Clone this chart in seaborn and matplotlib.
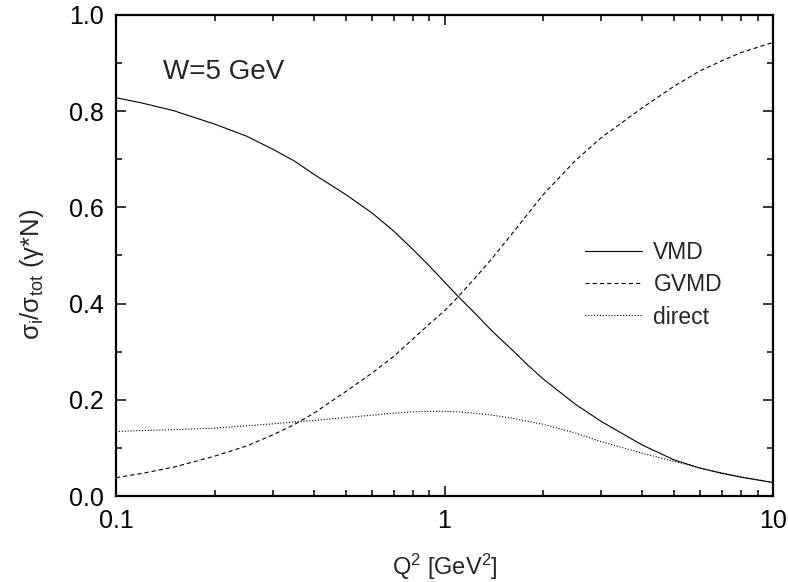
import matplotlib
matplotlib.use("Agg")
import matplotlib.pyplot as plt
from matplotlib.ticker import FixedLocator, FixedFormatter, MultipleLocator, NullFormatter
import seaborn as sns

# values
q2 = [0.1, 0.12, 0.15, 0.2, 0.25, 0.3, 0.35, 0.4, 0.5, 0.6, 0.7, 0.8, 0.9,
      1.0, 1.1, 1.25, 1.4, 1.6, 1.8, 2.0, 2.5, 3.0, 4.0, 5.0, 6.0, 7.0, 8.0, 10.0]
vmd = [0.828, 0.817, 0.801, 0.773, 0.748, 0.721, 0.696, 0.669, 0.627, 0.589,
       0.551, 0.513, 0.478, 0.445, 0.415, 0.377, 0.342, 0.305, 0.271, 0.243,
       0.191, 0.155, 0.106, 0.075, 0.058, 0.047, 0.039, 0.028]
gvmd = [0.038, 0.047, 0.060, 0.083, 0.104, 0.127, 0.149, 0.172, 0.217, 0.255,
        0.290, 0.326, 0.358, 0.385, 0.414, 0.456, 0.495, 0.544, 0.588, 0.627,
        0.697, 0.745, 0.807, 0.852, 0.884, 0.905, 0.922, 0.943]
direct = [0.134, 0.136, 0.138, 0.141, 0.146, 0.150, 0.154, 0.157, 0.163, 0.168,
          0.172, 0.175, 0.176, 0.176, 0.175, 0.172, 0.168, 0.162, 0.155, 0.149,
          0.131, 0.113, 0.089, 0.072, 0.058, 0.048, 0.040, 0.028]

series = {"VMD": vmd, "GVMD": gvmd, "direct": direct}
styles = {"VMD": "-", "GVMD": (0, (3.8, 2.7)), "direct": (0, (1.0, 1.6))}

sns.set_theme(style="ticks")
plt.rcParams["font.family"] = ["Liberation Sans", "DejaVu Sans"]
plt.rcParams["mathtext.fontset"] = "custom"
plt.rcParams["mathtext.rm"] = "Liberation Sans"
plt.rcParams["mathtext.it"] = "Liberation Sans:italic"
plt.rcParams["mathtext.default"] = "regular"

fig = plt.figure(figsize=(7.88, 5.82), dpi=100)
ax = fig.add_axes([116 / 788, 86 / 582, 657 / 788, 481 / 582])

for name, vals in series.items():
    sns.lineplot(x=q2, y=vals, ax=ax, color="black", linewidth=0.8,
                 linestyle=styles[name], label=name)

ax.set_xscale("log")
ax.set_xlim(0.1, 10)
ax.set_ylim(0, 1.0)
ax.xaxis.set_major_locator(FixedLocator([0.1, 1, 10]))
ax.xaxis.set_major_formatter(FixedFormatter(["0.1", "1", "10"]))
ax.xaxis.set_minor_locator(FixedLocator([m * d for d in (0.1, 1) for m in range(2, 10)]))
ax.xaxis.set_minor_formatter(NullFormatter())
ax.yaxis.set_major_locator(MultipleLocator(0.2))
ax.yaxis.set_minor_locator(MultipleLocator(0.1))
ax.yaxis.set_major_formatter(plt.FuncFormatter(lambda v, p: f"{v:.1f}"))

ax.tick_params(which="both", direction="in", top=True, right=True,
               colors="black", labelsize=18, width=1.1)
ax.tick_params(which="major", length=7)
ax.tick_params(which="minor", length=4)
ax.tick_params(axis="y", pad=8.5)
ax.tick_params(axis="x", pad=9)
for s in ax.spines.values():
    s.set_linewidth(1.6)
    s.set_color("black")

ax.set_xlabel(r"Q$^2$ [GeV$^2$]", fontsize=17, labelpad=14)
ax.set_ylabel(r"$\sigma_i/\sigma_{tot}$ ($\gamma$*N)", fontsize=18.5)
ax.yaxis.set_label_coords(-0.106, 0.46)

ax.text(0.072, 0.881, "W=5 GeV", transform=ax.transAxes, fontsize=20,
        va="center", ha="left")

ax.legend(frameon=False, loc="center left", bbox_to_anchor=(0.714, 0.439),
          borderpad=0, borderaxespad=0, fontsize=16.5, handlelength=2.5,
          handletextpad=0.48, labelspacing=0.4)

fig.savefig("out.png", dpi=100)
